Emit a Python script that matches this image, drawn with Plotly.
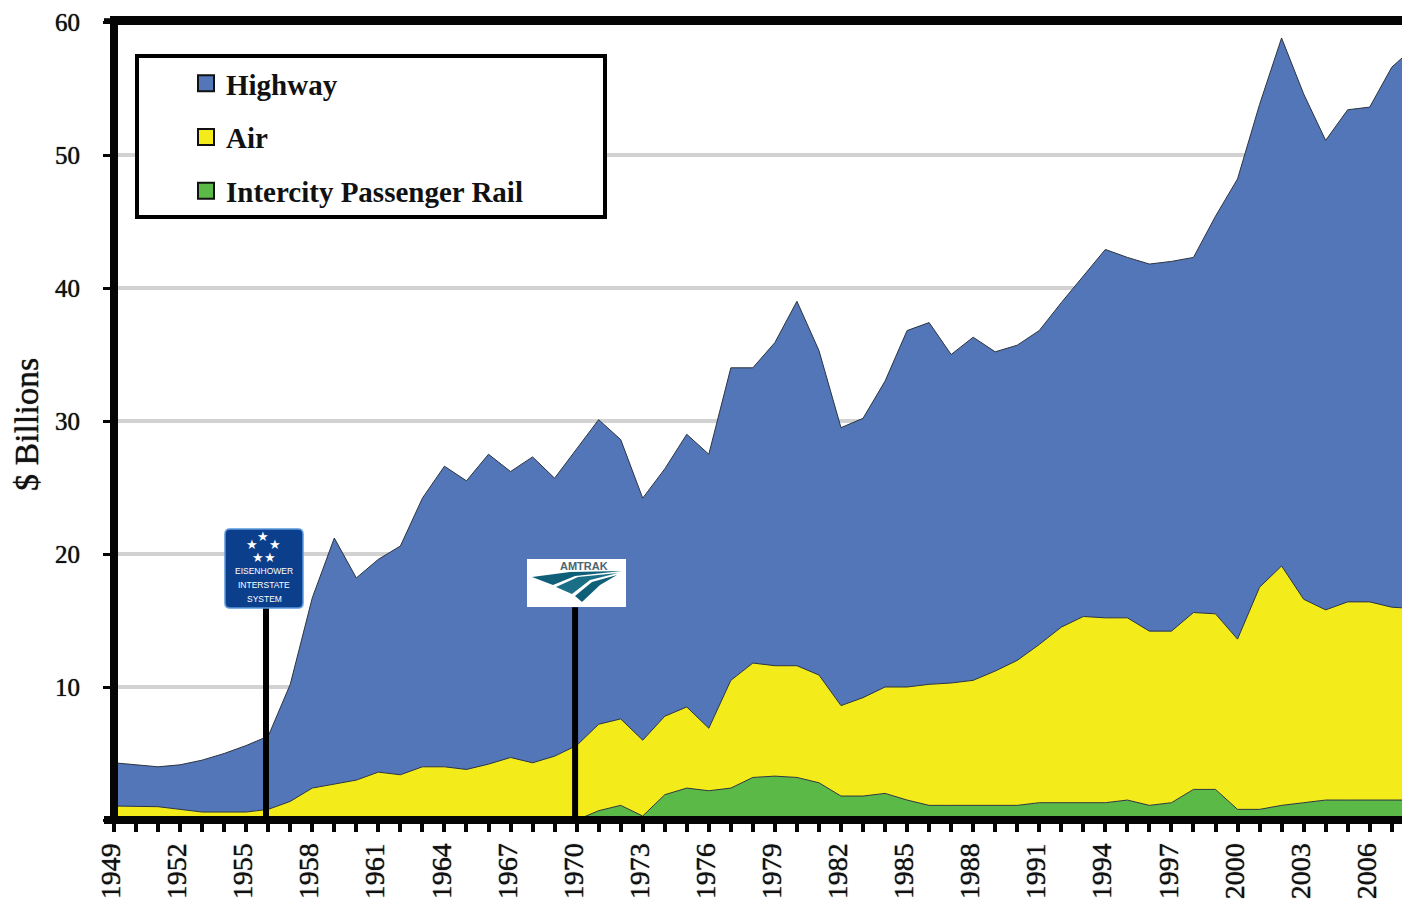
import plotly.graph_objects as go

years = list(range(1949, 2009))
total_top = [4.3,4.15,4.0,4.15,4.5,5.0,5.6,6.3,10.2,16.7,21.2,18.2,19.6,20.6,24.2,26.6,25.5,27.5,26.2,27.3,
             25.7,27.9,30.1,28.6,24.2,26.4,29.0,27.5,34.0,34.0,35.9,39.0,35.3,29.5,30.2,33.0,36.8,37.4,35.0,36.3,
             35.2,35.7,36.8,38.9,40.9,42.9,42.3,41.8,42.0,42.3,45.4,48.2,53.8,58.8,54.6,51.1,53.4,53.6,56.6,58.1]
air_top = [1.05,1.0,1.0,0.8,0.6,0.6,0.6,0.8,1.4,2.4,2.7,3.0,3.6,3.4,4.0,4.0,3.8,4.2,4.7,4.3,
           4.8,5.6,7.2,7.6,6.0,7.8,8.5,6.9,10.5,11.8,11.6,11.6,10.9,8.6,9.2,10.0,10.0,10.2,10.3,10.5,
           11.2,12.0,13.2,14.5,15.3,15.2,15.2,14.2,14.2,15.6,15.5,13.6,17.5,19.1,16.6,15.8,16.4,16.4,16.0,15.9]
rail = [0]*22 + [0.7,1.1,0.3,1.9,2.4,2.2,2.4,3.2,3.3,3.2,2.8,1.8,1.8,2.0,1.5,1.1,1.1,1.1,1.1,
                 1.1,1.3,1.3,1.3,1.3,1.5,1.1,1.3,2.3,2.3,0.8,0.8,1.1,1.3,1.5,1.5,1.5,1.5,1.5]
air = [round(a - r, 2) for a, r in zip(air_top, rail)]
highway = [round(t - a, 2) for t, a in zip(total_top, air_top)]
names = ["Highway", "Air", "Intercity Passenger Rail"]
colors = ["#5276b8", "#f3ec1a", "#5bb947"]
y_ticks = [0, 10, 20, 30, 40, 50, 60]
y_text = ["", "10", "20", "30", "40", "50", "60"]
x_label_years = list(range(1949, 2009, 3))

W, H = 1402, 901
L, R, T, B = 114, 1402, 22, 820
def px(x): return (x - L) / (R - L)
def py(y): return (B - y) / (B - T)
SERIF = "Liberation Serif"
HALO = "0 0 1px #111"

fig = go.Figure()
for vals, name, col in [(rail, names[2], colors[2]), (air, names[1], colors[1]), (highway, names[0], colors[0])]:
    fig.add_trace(go.Scatter(x=years, y=vals, name=name, stackgroup="s", mode="lines",
                             fillcolor=col, line=dict(color="#2b3440", width=1),
                             showlegend=False, hoverinfo="x+y+name"))
for name, col in zip(names, colors):
    fig.add_trace(go.Scatter(x=[None], y=[None], name=f"<b>{name}</b>", mode="markers", legendgroup=name,
                             marker=dict(symbol="square", size=16, color=col, line=dict(color="#111", width=2))))

def line(x0, y0, x1, y1, w, color="#050505"):
    return dict(type="line", xref="paper", yref="paper", x0=px(x0), y0=py(y0), x1=px(x1), y1=py(y1),
                line=dict(color=color, width=w), layer="above")
def poly(points, color):
    d = "M " + " L ".join(f"{px(a):.5f},{py(b):.5f}" for a, b in points) + " Z"
    return dict(type="path", xref="paper", yref="paper", path=d, fillcolor=color, line=dict(width=0), layer="above")
def rounded(x0, y0, x1, y1, r):
    p = lambda a, b: f"{px(a):.5f},{py(b):.5f}"
    return (f"M {p(x0+r,y0)} L {p(x1-r,y0)} Q {p(x1,y0)} {p(x1,y0+r)} L {p(x1,y1-r)} Q {p(x1,y1)} {p(x1-r,y1)} "
            f"L {p(x0+r,y1)} Q {p(x0,y1)} {p(x0,y1-r)} L {p(x0,y0+r)} Q {p(x0,y0)} {p(x0+r,y0)} Z")

shapes = [
    line(110, 20.5, 1402, 20.5, 9),
    line(104, 20.7, 114, 20.7, 5),
    line(114, 16, 114, 824, 8),
    line(104, 820, 1402, 820, 8),
    dict(type="line", x0=1955.9, x1=1955.9, y0=0, y1=16, line=dict(color="#000", width=6), layer="above"),
    dict(type="line", x0=1969.93, x1=1969.93, y0=0, y1=16, line=dict(color="#000", width=6), layer="above"),
    dict(type="rect", xref="paper", yref="paper", x0=px(137), x1=px(605), y0=py(56), y1=py(217),
         fillcolor="white", line=dict(color="#000", width=4), layer="above"),
    dict(type="path", xref="paper", yref="paper", path=rounded(225, 529, 303, 608, 5),
         fillcolor="#0b3f8c", line=dict(color="#5a98dc", width=1.5), layer="above"),
    dict(type="rect", xref="paper", yref="paper", x0=px(527), x1=px(626), y0=py(559), y1=py(607),
         fillcolor="white", line=dict(width=0), layer="above"),
    poly([(532,577),(570,572),(622,571),(575,576),(553,585)], "#0f5f78"),
    poly([(556,587),(578,577),(618,573),(590,580),(572,594)], "#1a6f86"),
    poly([(575,596),(592,582),(617,575),(600,585),(582,602)], "#0f5f78"),
]

ann = []
def note(x, y, text, size, color="white", family="Liberation Sans", shadow=None, **kw):
    f = dict(size=size, color=color, family=family)
    if shadow:
        f["shadow"] = shadow
    ann.append(dict(x=px(x), y=py(y), xref="paper", yref="paper", text=text, showarrow=False,
                    font=f, xanchor="center", yanchor="middle", **kw))
for sx, sy in [(263,536),(252,544),(275,544),(258,557),(270,557)]:
    note(sx, sy, "★", 13)
note(264, 571, "EISENHOWER", 8.5)
note(264, 585, "INTERSTATE", 8.5)
note(264, 599, "SYSTEM", 8.5)
note(584, 566, "<b>AMTRAK</b>", 11, color="#4a6570")
note(26, 425, "$ Billions", 34, color="#111", family=SERIF, shadow=HALO, textangle=-90)

fig.update_layout(
    width=W, height=H, margin=dict(l=L, r=W - R, t=T, b=H - B),
    paper_bgcolor="white", plot_bgcolor="white",
    showlegend=True,
    legend=dict(x=px(186), y=py(58), xanchor="left", yanchor="top", bgcolor="rgba(0,0,0,0)",
                font=dict(family=SERIF, size=29, color="#111"), itemwidth=30,
                tracegroupgap=13, traceorder="grouped", itemclick=False, itemdoubleclick=False),
    shapes=shapes, annotations=ann,
    xaxis=dict(range=[1949, 1949 + (R - L) / 22.03], tickmode="array",
               tickvals=years, ticktext=[str(y) if y in x_label_years else "" for y in years],
               ticks="outside", ticklen=11, tickwidth=4, tickcolor="#050505", tickangle=-90,
               showgrid=False, zeroline=False, showline=False, ticklabelshift=-3,
               tickfont=dict(family=SERIF, size=28, color="#111", shadow=HALO)),
    yaxis=dict(range=[0, 60], tickmode="array", tickvals=y_ticks, ticktext=y_text,
               ticks="outside", ticklen=10, tickwidth=3, tickcolor="#050505", ticklabelstandoff=18,
               showgrid=True, gridcolor="#d2d2d2", gridwidth=4, zeroline=False, showline=False,
               tickfont=dict(family=SERIF, size=25, color="#111", shadow=HALO)),
)
fig.write_html("out.html", config=dict(displayModeBar=False),
               post_script="document.body.style.margin='0';document.body.style.overflow='hidden';")
